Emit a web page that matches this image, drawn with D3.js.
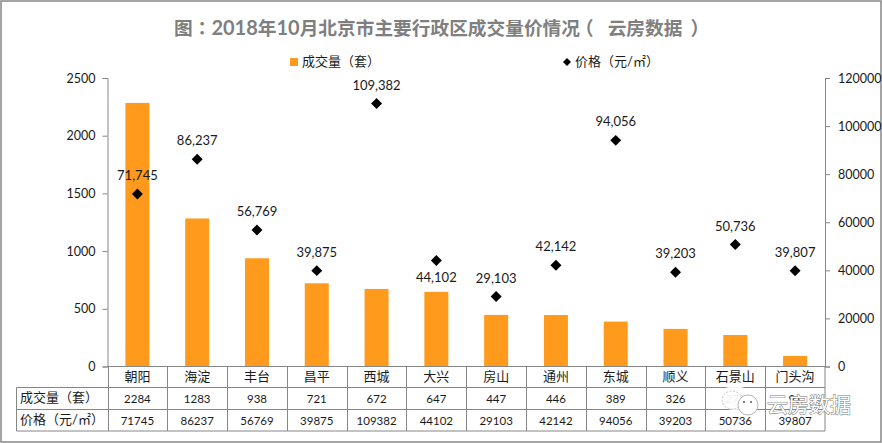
<!DOCTYPE html>
<html>
<head>
<meta charset="utf-8">
<script src="https://cdn.jsdelivr.net/npm/d3@7"></script>
<style>
html, body { margin: 0; padding: 0; background: #fff; }
svg { display: block; }
text { font-family: Lato, "Noto Sans CJK SC", sans-serif; fill: #1a1a1a; }
</style>
</head>
<body>
<svg id="chart" width="882" height="443"></svg>
<script>
var districts = ['朝阳', '海淀', '丰台', '昌平', '西城', '大兴', '房山', '通州', '东城', '顺义', '石景山', '门头沟'];
var volumes = [2284, 1283, 938, 721, 672, 647, 447, 446, 389, 326, 273, 91];
var prices = [71745, 86237, 56769, 39875, 109382, 44102, 29103, 42142, 94056, 39203, 50736, 39807];
var volumeTicks = [0, 500, 1000, 1500, 2000, 2500];
var priceTicks = [0, 20000, 40000, 60000, 80000, 100000, 120000];
var rowNames = ['成交量（套）', '价格（元/㎡）'];
var labelsBelow = ['大兴'];

var watermarkText = '云房数据';

var GREY = '#868686';
var ORANGE = '#ff9a1c';

var svg = d3.select('#chart');
var left = 107.5, right = 825, top_ = 78, bottom = 366.5;
var tableLeft = 16.5;
var rowLines = [bottom, 387.5, 409.5, 431];

var x = d3.scaleBand().domain(districts).range([left, right]);
var yVol = d3.scaleLinear().domain([0, 2500]).range([bottom, top_]);
var yPrice = d3.scaleLinear().domain([0, 120000]).range([bottom, top_]);
var comma = d3.format(',');

// outer frame
svg.append('rect')
	.attr('x', 1).attr('y', 1)
	.attr('width', 880).attr('height', 441)
	.attr('fill', '#fff').attr('stroke', GREY).attr('stroke-width', 1.5);

// title: the digits are set larger and the brackets nudged to sit apart
var title = svg.append('text')
	.attr('x', 174).attr('y', 35)
	.attr('font-size', 18.7).attr('font-weight', 700)
	.style('fill', '#7f7f7f');
title.append('tspan').text('图');
title.append('tspan').attr('font-family', '"Noto Sans CJK TC"').text('：');
title.append('tspan').attr('font-size', 20).text('2018');
title.append('tspan').text('年');
title.append('tspan').attr('font-size', 20).text('10');
title.append('tspan').text('月北京市主要行政区成交量价情况');
title.append('tspan').attr('dx', -5).text('（');
title.append('tspan').attr('dx', 14).text('云房数据');
title.append('tspan').attr('dx', 8).text('）');

// legend
svg.append('rect')
	.attr('x', 290).attr('y', 58)
	.attr('width', 8).attr('height', 8)
	.attr('fill', ORANGE);
svg.append('text').attr('x', 302).attr('y', 66).attr('font-size', 13).text('成交量（套）');

var diamond = d3.symbol().type(d3.symbolSquare);
svg.append('path')
	.attr('d', diamond.size(32)())
	.attr('transform', 'translate(567,62) rotate(45)')
	.attr('fill', '#000');
svg.append('text').attr('x', 575).attr('y', 66).attr('font-size', 13).text('价格（元/㎡）');

// axes
var axisLeft = d3.axisLeft(yVol).tickValues(volumeTicks).tickSize(5).tickPadding(7).tickFormat(d3.format('d'));
var axisRight = d3.axisRight(yPrice).tickValues(priceTicks).tickSize(5).tickPadding(8).tickFormat(d3.format('d'));

function styleAxis(g) {
	g.selectAll('path, line').attr('stroke', GREY);
	g.selectAll('text').attr('font-size', 12.5)
		.attr('font-family', 'Lato, sans-serif')
		.attr('fill', '#1a1a1a');
}

svg.append('g')
	.selectAll('rect')
	.data(districts)
	.join('rect')
	.attr('x', function(d) { return x(d) + x.bandwidth() / 2 - 12; })
	.attr('y', function(d, i) { return yVol(volumes[i]); })
	.attr('width', 24)
	.attr('height', function(d, i) { return bottom - yVol(volumes[i]); })
	.attr('fill', ORANGE);

svg.append('g').attr('transform', 'translate(' + left + ',0)').call(axisLeft).call(styleAxis);
svg.append('g').attr('transform', 'translate(' + right + ',0)').call(axisRight).call(styleAxis);

// table lines
var table = svg.append('g').attr('stroke', GREY).attr('stroke-width', 1).attr('fill', 'none');
rowLines.forEach(function(yy, i) {
	table.append('line')
		.attr('x1', i === 0 ? left : tableLeft).attr('x2', right)
		.attr('y1', yy).attr('y2', yy);
});
table.append('line')
	.attr('x1', tableLeft).attr('x2', tableLeft)
	.attr('y1', rowLines[1]).attr('y2', rowLines[3]);
x.domain().forEach(function(d) {
	table.append('line')
		.attr('x1', Math.round(x(d)) + 0.5).attr('x2', Math.round(x(d)) + 0.5)
		.attr('y1', bottom).attr('y2', rowLines[3]);
});
table.append('line')
	.attr('x1', right).attr('x2', right)
	.attr('y1', bottom).attr('y2', rowLines[3]);

// table text
function cellRow(values, yy, size) {
	svg.append('g')
		.selectAll('text')
		.data(values)
		.join('text')
		.attr('x', function(d, i) { return x(districts[i]) + x.bandwidth() / 2; })
		.attr('y', yy)
		.attr('text-anchor', 'middle')
		.attr('font-size', size)
		.text(function(d) { return d; });
}
cellRow(districts, 381, 13);
cellRow(volumes, 403, 11.5);
cellRow(prices, 425, 11.5);

svg.append('g')
	.selectAll('text')
	.data(rowNames)
	.join('text')
	.attr('x', 20)
	.attr('y', function(d, i) { return i === 0 ? 402 : 424; })
	.attr('font-size', 13)
	.text(function(d) { return d; });

// price markers and labels
svg.append('g')
	.selectAll('path')
	.data(prices)
	.join('path')
	.attr('d', diamond.size(60)())
	.attr('transform', function(d, i) {
		return 'translate(' + (x(districts[i]) + x.bandwidth() / 2) + ',' + yPrice(d) + ') rotate(45)';
	})
	.attr('fill', '#000');

svg.append('g')
	.selectAll('text')
	.data(prices)
	.join('text')
	.attr('x', function(d, i) { return x(districts[i]) + x.bandwidth() / 2; })
	.attr('y', function(d, i) {
		return yPrice(d) + (labelsBelow.indexOf(districts[i]) >= 0 ? 22 : -14);
	})
	.attr('text-anchor', 'middle')
	.attr('font-size', 13)
	.text(function(d) { return comma(d); });

// watermark over the table corner
var mark = svg.append('g');
mark.append('ellipse')
	.attr('cx', 735).attr('cy', 398).attr('rx', 17).attr('ry', 12)
	.attr('fill', '#fff').attr('fill-opacity', 0.92);
mark.append('ellipse')
	.attr('cx', 732).attr('cy', 400).attr('rx', 10).attr('ry', 9)
	.attr('fill', 'none').attr('stroke', '#c4c4c4').attr('stroke-width', 1).attr('stroke-dasharray', '2 1.5');
mark.append('circle')
	.attr('cx', 748).attr('cy', 405).attr('r', 10)
	.attr('fill', '#fff').attr('stroke', '#b5b5b5').attr('stroke-width', 1);
mark.append('circle').attr('cx', 744).attr('cy', 402).attr('r', 1).attr('fill', '#555');
mark.append('circle').attr('cx', 751).attr('cy', 402).attr('r', 1).attr('fill', '#555');
mark.append('text')
	.attr('x', 767).attr('y', 412)
	.attr('font-size', 21)
	.attr('font-family', '"Noto Sans CJK SC", sans-serif')
	.style('fill', '#fff')
	.attr('stroke', '#777').attr('stroke-width', 1)
	.attr('paint-order', 'stroke')
	.text(watermarkText);
</script>
</body>
</html>
